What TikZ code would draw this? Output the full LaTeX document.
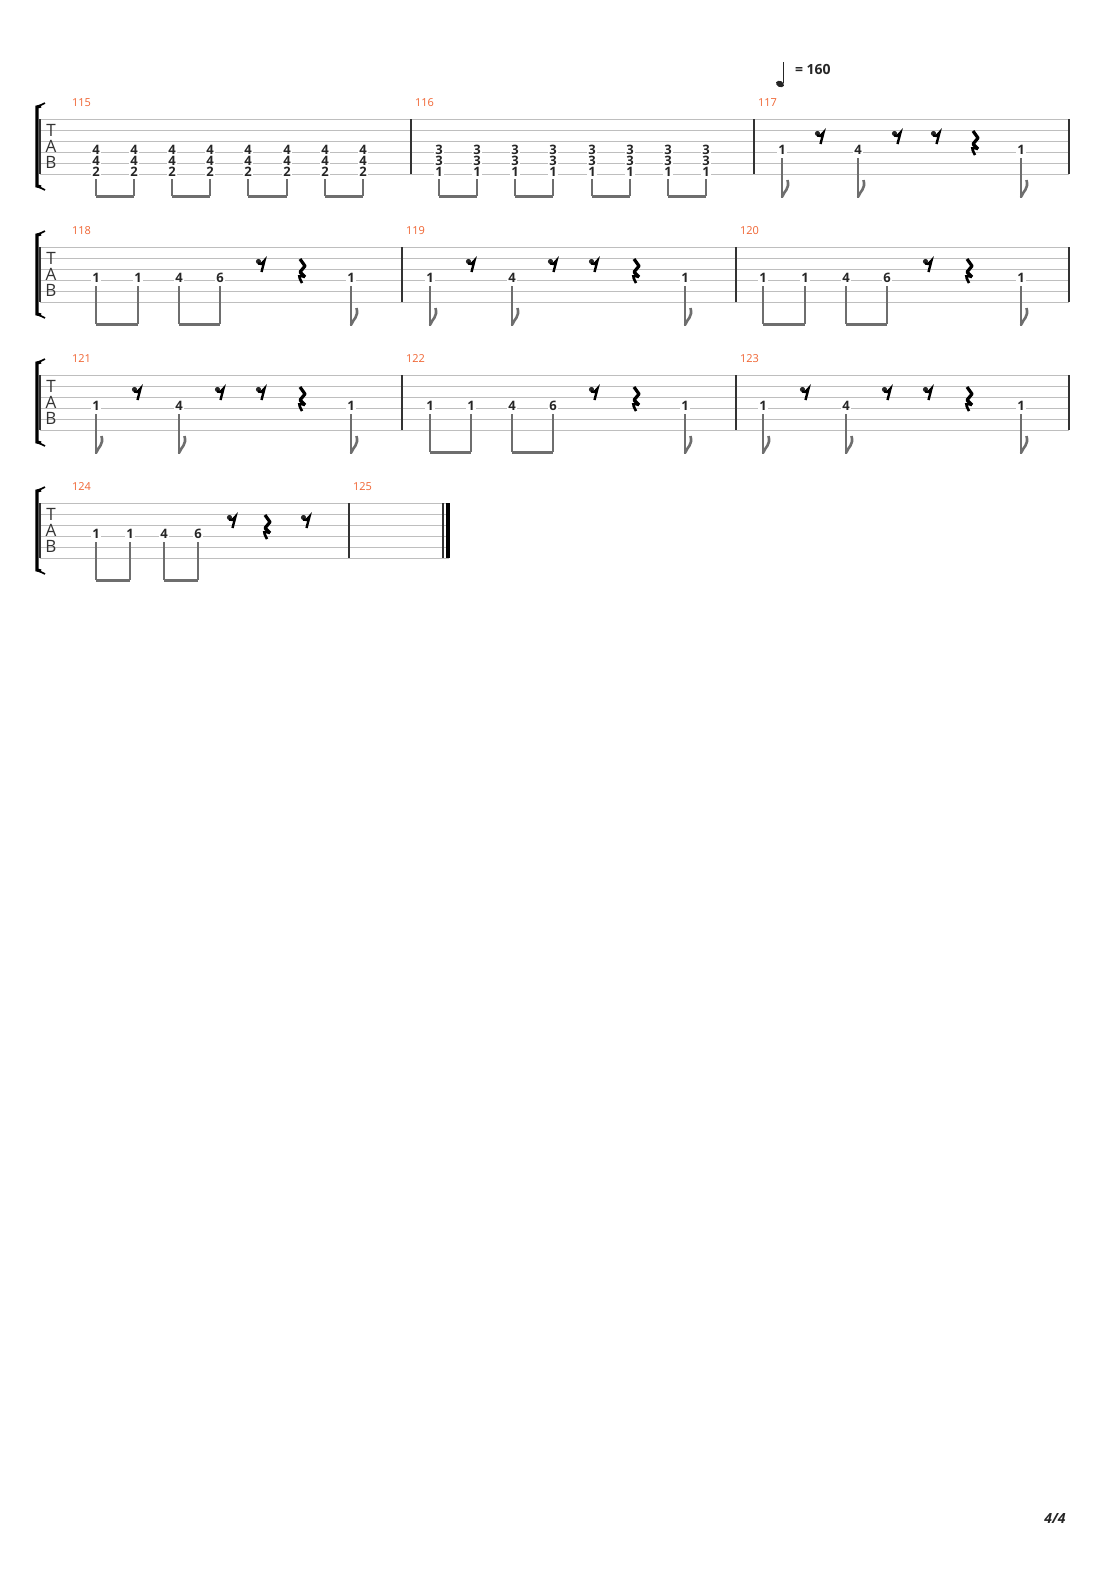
\documentclass[tikz,border=0pt]{standalone}
\usepackage{fontspec}
\setmainfont{Open Sans}
\definecolor{barnum}{RGB}{240,100,50}
\definecolor{staffgray}{RGB}{190,190,190}
\definecolor{stemgray}{RGB}{110,110,110}
\tikzset{
  staffline/.style={draw=staffgray, line width=0.5pt},
  barline/.style={draw=black!80, line width=0.6pt},
  fretnum/.style={font=\bfseries\fontsize{6.5}{7}\selectfont, fill=white, inner sep=0.4pt, text=black!85},
  barno/.style={font=\fontsize{5.5}{6}\selectfont, text=barnum, anchor=west},
  tabletter/.style={font=\fontsize{8.5}{8.5}\selectfont, text=black!80, inner sep=0pt},
  stemline/.style={draw=stemgray, line width=0.7pt},
  beamline/.style={draw=stemgray, line width=1.5pt},
  restmark/.style={fill=black!85}
}
% one staff: top line y, end x
\newcommand{\tabstaff}[2]{%
  \foreach \s in {0,...,5} {\draw[staffline] (40,#1+11*\s) -- (#2,#1+11*\s);}
  \draw[barline] (40,#1) -- (40,#1+55);
  \node[tabletter] at (51,#1+11) {T};
  \node[tabletter] at (51,#1+27) {A};
  \node[tabletter] at (51,#1+43) {B};
  \draw[line width=1.6pt] (41,#1-13) -- (37,#1-12) -- (37,#1+67) -- (41,#1+68);
  \draw[line width=0.8pt] (37,#1-12) -- (45,#1-16);
  \draw[line width=0.8pt] (37,#1+67) -- (45,#1+71);
}
\newcommand{\erest}[2]{% eighth rest at x, top y
  \fill[restmark] (#1-2.5,#2+14.5) circle (2.6);
  \draw[line width=1.2pt] (#1-3,#2+16.5) .. controls (#1,#2+17.5) .. (#1+3.5,#2+13.5) -- (#1+0.5,#2+25);
}
\newcommand{\qrest}[2]{% quarter rest
  \draw[line width=1.6pt, line join=bevel] (#1-2,#2+12) -- (#1+3,#2+19) -- (#1-2,#2+25) -- (#1+3,#2+30);
  \draw[line width=1.3pt] (#1+3,#2+30) .. controls (#1-4,#2+28) .. (#1,#2+36);
}
\newcommand{\eflag}[2]{% single eighth stem with flag
  \draw[stemline] (#1,#2+39) -- (#1,#2+79);
  \draw[stemgray, line width=1.3pt] (#1,#2+78) .. controls (#1+2,#2+72) and (#1+8,#2+70) .. (#1+5.5,#2+61);
}
\newcommand{\beampair}[4]{% x1, x2, stem top, staff top
  \draw[stemline] (#1,#3) -- (#1,#4+77);
  \draw[stemline] (#2,#3) -- (#2,#4+77);
  \draw[beamline] (#1-0.3,#4+77) -- (#2+0.3,#4+77);
}
\begin{document}
\begin{tikzpicture}[x=0.5pt, y=-0.5pt]
  \useasboundingbox[fill=white] (0,0) rectangle (1110,1570);

  % tempo
  \fill[black!85, rotate around={-25:(780,84)}] (780,84) ellipse (4.2 and 3);
  \draw[black!85, line width=0.6pt] (783.5,83) -- (783.5,62);
  \node[font=\bfseries\fontsize{7}{8}\selectfont, anchor=west, text=black!85] at (788,69) {= 160};

  % ---- system 1
  \tabstaff{119}{1069}
  \draw[barline] (411,119) -- (411,174);
  \draw[barline] (754,119) -- (754,174);
  \draw[barline] (1069,119) -- (1069,174);
  \node[barno] at (65,103) {115};
  \node[barno] at (408,103) {116};
  \node[barno] at (751,103) {117};
  \foreach \x in {96,134,172,210,248,287,325,363} {
    \node[fretnum] at (\x,150) {4};
    \node[fretnum] at (\x,161) {4};
    \node[fretnum] at (\x,172) {2};
  }
  \foreach \x in {439,477,515,553,592,630,668,706} {
    \node[fretnum] at (\x,150) {3};
    \node[fretnum] at (\x,161) {3};
    \node[fretnum] at (\x,172) {1};
  }
  \foreach \a/\b in {96/134,172/210,248/287,325/363,439/477,515/553,592/630,668/706}
    {\beampair{\a}{\b}{179}{119}}
  \foreach \x/\f in {782/1,858/4,1021/1} {
    \node[fretnum] at (\x,150) {\f};
    \eflag{\x}{119}
  }
  \foreach \x in {820,897,936} {\erest{\x}{119}}
  \qrest{975}{119}

  % ---- system 2
  \tabstaff{247}{1069}
  \draw[barline] (402,247) -- (402,302);
  \draw[barline] (736,247) -- (736,302);
  \draw[barline] (1069,247) -- (1069,302);
  \node[barno] at (65,231) {118};
  \node[barno] at (399,231) {119};
  \node[barno] at (733,231) {120};
  \foreach \x/\f in {96/1,138/1,179/4,220/6,763/1,805/1,846/4,887/6}
    {\node[fretnum] at (\x,278) {\f};}
  \foreach \a/\b in {96/138,179/220,763/805,846/887}
    {\beampair{\a}{\b}{286}{247}}
  \foreach \x/\f in {351/1,430/1,512/4,685/1,1021/1} {
    \node[fretnum] at (\x,278) {\f};
    \eflag{\x}{247}
  }
  \foreach \x in {261,471,553,594,928} {\erest{\x}{247}}
  \foreach \x in {302,636,969} {\qrest{\x}{247}}

  % ---- system 3
  \tabstaff{375}{1069}
  \draw[barline] (402,375) -- (402,430);
  \draw[barline] (736,375) -- (736,430);
  \draw[barline] (1069,375) -- (1069,430);
  \node[barno] at (65,359) {121};
  \node[barno] at (399,359) {122};
  \node[barno] at (733,359) {123};
  \foreach \x/\f in {430/1,471/1,512/4,553/6}
    {\node[fretnum] at (\x,406) {\f};}
  \foreach \a/\b in {430/471,512/553}
    {\beampair{\a}{\b}{414}{375}}
  \foreach \x/\f in {96/1,179/4,351/1,685/1,763/1,846/4,1021/1} {
    \node[fretnum] at (\x,406) {\f};
    \eflag{\x}{375}
  }
  \foreach \x in {137,220,261,594,805,887,928} {\erest{\x}{375}}
  \foreach \x in {302,636,969} {\qrest{\x}{375}}

  % ---- system 4
  \tabstaff{503}{449}
  \draw[barline] (349,503) -- (349,558);
  \draw[barline] (443,503) -- (443,558);
  \draw[line width=2pt] (447.5,503) -- (447.5,558);
  \node[barno] at (65,487) {124};
  \node[barno] at (346,487) {125};
  \foreach \x/\f in {96/1,130/1,164/4,198/6}
    {\node[fretnum] at (\x,534) {\f};}
  \foreach \a/\b in {96/130,164/198}
    {\beampair{\a}{\b}{542}{503}}
  \foreach \x in {232,306} {\erest{\x}{503}}
  \qrest{267}{503}

  % page number
  \node[font=\bfseries\itshape\fontsize{7}{8}\selectfont, text=black!85] at (1055,1518) {4/4};
\end{tikzpicture}
\end{document}
